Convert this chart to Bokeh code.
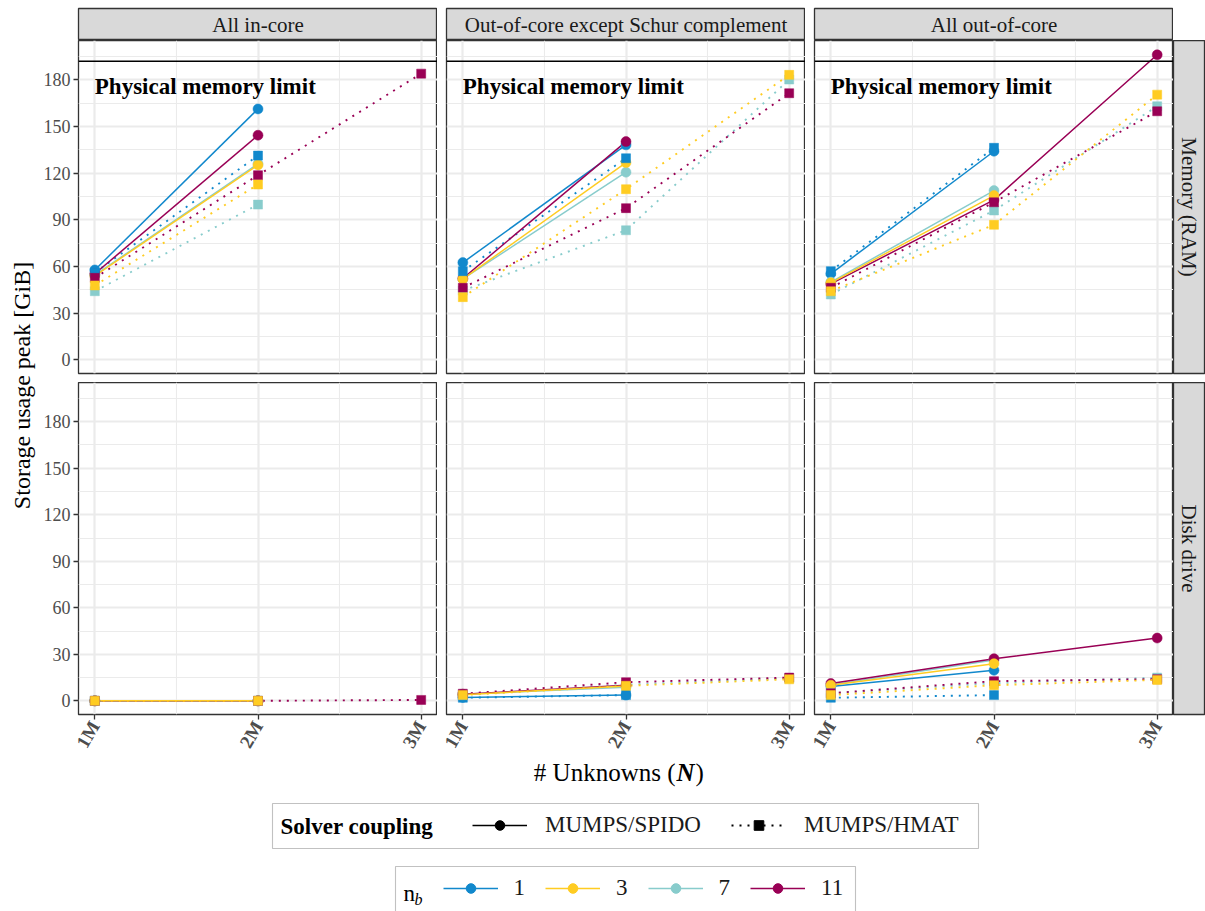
import math
from bokeh.plotting import figure
from bokeh.layouts import column, row
from bokeh.models import (ColumnDataSource, FixedTicker, Span, Label, Legend, LegendItem,
                          Range1d, BoxAnnotation)
from bokeh.embed import file_html
from bokeh.resources import INLINE

nan = float("nan")

# ---------------------------------------------------------------- data
N_VALUES = [1, 2, 3]                       # number of unknowns, millions
N_LABELS = ["1M", "2M", "3M"]
Y_TICKS = [0, 30, 60, 90, 120, 150, 180]
Y_MINOR = [15, 45, 75, 105, 135, 165, 195]
CONFIGS = ["All in-core", "Out-of-core except Schur complement", "All out-of-core"]
STORAGES = ["Memory (RAM)", "Disk drive"]
SOLVERS = ["MUMPS/SPIDO", "MUMPS/HMAT"]
NB_LABELS = ["1", "3", "7", "11"]
NB_COLORS = ["#1188CC", "#FFCC22", "#88CCCC", "#990055"]
MEMORY_LIMIT = 192

# rows follow NB_LABELS (1, 3, 7, 11); columns follow N_VALUES (1M, 2M, 3M); GiB
RAM_INCORE_SPIDO = [[57.8, 161.3, nan], [54.0, 125.3, nan], [54.5, 126.0, nan], [55.3, 144.4, nan]]
RAM_INCORE_HMAT = [[56.0, 131.3, nan], [47.8, 112.7, nan], [44.1, 99.8, nan], [52.7, 118.7, 184.0]]
RAM_SCHUR_SPIDO = [[62.5, 138.2, nan], [51.9, 126.8, nan], [52.0, 120.6, nan], [52.3, 140.3, nan]]
RAM_SCHUR_HMAT = [[57.0, 129.6, nan], [40.3, 109.7, 183.2], [44.5, 83.3, 180.2], [46.3, 97.5, 171.4]]
RAM_OOC_SPIDO = [[55.3, 134.1, nan], [49.5, 105.6, nan], [50.0, 108.8, nan], [48.8, 102.8, 196.1]]
RAM_OOC_HMAT = [[57.0, 136.3, nan], [44.1, 86.8, 170.5], [42.0, 96.0, 163.0], [46.3, 101.3, 159.8]]

DISK_INCORE_SPIDO = [[0.0, 0.0, nan], [0.0, 0.0, nan], [0.0, 0.0, nan], [0.0, 0.0, nan]]
DISK_INCORE_HMAT = [[0.0, 0.0, nan], [0.0, 0.0, nan], [0.0, 0.0, nan], [0.0, 0.0, 0.6]]
DISK_SCHUR_SPIDO = [[2.2, 3.7, nan], [4.0, 9.5, nan], [4.2, 8.8, nan], [4.3, 10.0, nan]]
DISK_SCHUR_HMAT = [[2.0, 3.7, nan], [3.7, 9.7, 13.9], [4.0, 10.5, 14.5], [4.6, 12.0, 15.0]]
DISK_OOC_SPIDO = [[9.2, 19.7, nan], [10.1, 24.0, nan], [10.3, 26.4, nan], [11.2, 27.2, 40.5]]
DISK_OOC_HMAT = [[2.0, 3.7, nan], [3.7, 10.1, 13.5], [4.9, 11.4, 15.0], [4.9, 12.7, 14.0]]

DATA = {
    (0, 0): (RAM_INCORE_SPIDO, RAM_INCORE_HMAT),
    (1, 0): (RAM_SCHUR_SPIDO, RAM_SCHUR_HMAT),
    (2, 0): (RAM_OOC_SPIDO, RAM_OOC_HMAT),
    (0, 1): (DISK_INCORE_SPIDO, DISK_INCORE_HMAT),
    (1, 1): (DISK_SCHUR_SPIDO, DISK_SCHUR_HMAT),
    (2, 1): (DISK_OOC_SPIDO, DISK_OOC_HMAT),
}

# ---------------------------------------------------------------- style
FONT = "Liberation Serif"
FRAME_W, FRAME_H = 359, 333
YTITLE_W = 38
LEFT_AXIS = 40
GAP = 9
BOTTOM_AXIS = 44
STRIP = 32
TOP_STRIP = 40          # includes 8px top margin
X_RANGE = (0.9, 3.1)
Y_RANGE = (-8.8, 205.3)
DRAW_ORDER = [0, 2, 3, 1]
LINE_DASH = ["solid", "2 6"]
LINE_WIDTH = [1.5, 1.9]
MARKERS = ["circle", "square"]
MARKER_SIZE = [10, 9]
GRID_COLOR = "#EBEBEB"
DARK = "#333333"


def style_axes(p, show_x, show_y):
    for ax in p.xaxis:
        ax.ticker = FixedTicker(ticks=N_VALUES, minor_ticks=[1.5, 2.5])
        ax.major_label_overrides = dict(zip(N_VALUES, N_LABELS))
        ax.major_label_orientation = math.pi / 3
        ax.major_label_text_font = FONT
        ax.major_label_text_font_size = "19px"
        ax.major_label_text_font_style = "bold"
        ax.major_label_text_color = "#4D4D4D"
        ax.major_label_standoff = 3
        ax.visible = show_x
    for ax in p.yaxis:
        ax.ticker = FixedTicker(ticks=Y_TICKS, minor_ticks=Y_MINOR)
        ax.major_label_text_font = FONT
        ax.major_label_text_font_size = "18px"
        ax.major_label_text_color = "#4D4D4D"
        ax.major_label_standoff = 3
        ax.visible = show_y
    for ax in list(p.xaxis) + list(p.yaxis):
        ax.axis_line_color = None
        ax.major_tick_line_color = DARK
        ax.major_tick_line_width = 1.3
        ax.major_tick_out = 5
        ax.major_tick_in = 0
        ax.minor_tick_line_color = None
    for g in list(p.xgrid) + list(p.ygrid):
        g.grid_line_color = GRID_COLOR
        g.grid_line_width = 2.2
        g.minor_grid_line_color = GRID_COLOR
        g.minor_grid_line_width = 1.1


def make_panel(ci, si):
    lb = LEFT_AXIS if ci == 0 else GAP
    bb = GAP if si == 0 else BOTTOM_AXIS
    p = figure(width=lb + FRAME_W, height=FRAME_H + bb,
               x_range=Range1d(*X_RANGE), y_range=Range1d(*Y_RANGE),
               toolbar_location=None, output_backend="svg",
               min_border_left=lb, min_border_right=0, min_border_top=0, min_border_bottom=bb,
               outline_line_color=DARK, outline_line_width=1.3,
               background_fill_color="white", border_fill_color="white")
    style_axes(p, show_x=(si == 1), show_y=(ci == 0))

    if si == 0:
        p.add_layout(Span(location=MEMORY_LIMIT, dimension="width",
                          line_color="black", line_width=1.5))
        p.add_layout(Label(x=N_VALUES[0], y=MEMORY_LIMIT - 16, text="Physical memory limit",
                           text_font=FONT, text_font_size="23px", text_font_style="bold",
                           text_color="black", text_align="left", text_baseline="middle"))

    series = DATA[(ci, si)]
    sources = {}
    for k in DRAW_ORDER:
        for s in range(2):
            src = ColumnDataSource(dict(n=N_VALUES, gib=series[s][k]))
            sources[(k, s)] = src
            p.line("n", "gib", source=src, line_color=NB_COLORS[k], line_width=LINE_WIDTH[s],
                   line_dash=LINE_DASH[s])
    for s in range(2):
        for k in DRAW_ORDER:
            p.scatter("n", "gib", source=sources[(k, s)], marker=MARKERS[s],
                      size=MARKER_SIZE[s], fill_color=NB_COLORS[k], line_color=NB_COLORS[k],
                      line_width=0.5)
    return p


def make_top_strip(ci):
    lb = (YTITLE_W + LEFT_AXIS) if ci == 0 else GAP
    s = figure(width=lb + FRAME_W, height=TOP_STRIP, x_range=Range1d(0, 1), y_range=Range1d(0, 1),
               toolbar_location=None, output_backend="svg",
               min_border_left=lb, min_border_right=0, min_border_top=8, min_border_bottom=0,
               x_axis_location=None, y_axis_location=None,
               background_fill_color="#D9D9D9", border_fill_color="white",
               outline_line_color=DARK, outline_line_width=1.3)
    for g in list(s.xgrid) + list(s.ygrid):
        g.visible = False
    s.add_layout(Label(x=0.5, y=0.5, text=CONFIGS[ci], text_font=FONT, text_font_size="21px",
                       text_color="#1A1A1A", text_align="center", text_baseline="middle"))
    return s


def make_right_strip(si):
    bb = GAP if si == 0 else BOTTOM_AXIS
    s = figure(width=STRIP, height=FRAME_H + bb, x_range=Range1d(0, 1), y_range=Range1d(0, 1),
               toolbar_location=None, output_backend="svg",
               min_border_left=0, min_border_right=1, min_border_top=0, min_border_bottom=bb,
               x_axis_location=None, y_axis_location=None,
               background_fill_color="#D9D9D9", border_fill_color="white",
               outline_line_color=DARK, outline_line_width=1.3)
    for g in list(s.xgrid) + list(s.ygrid):
        g.visible = False
    s.add_layout(Label(x=0.5, y=0.5, text=STORAGES[si], text_font=FONT, text_font_size="21px",
                       text_color="#1A1A1A", text_align="center", text_baseline="middle",
                       angle=-math.pi / 2))
    return s


def blank(width, height):
    f = figure(width=width, height=height, x_range=Range1d(0, width), y_range=Range1d(0, height),
               toolbar_location=None, output_backend="svg",
               min_border_left=0, min_border_right=0, min_border_top=0, min_border_bottom=0,
               x_axis_location=None, y_axis_location=None, outline_line_color=None,
               background_fill_color="white", border_fill_color="white")
    for g in list(f.xgrid) + list(f.ygrid):
        g.visible = False
    return f


panels = {(ci, si): make_panel(ci, si) for ci in range(3) for si in range(2)}
top_strips = [make_top_strip(ci) for ci in range(3)]
right_strips = [make_right_strip(si) for si in range(2)]

rows_height = (FRAME_H + GAP) + (FRAME_H + BOTTOM_AXIS)
total_w = YTITLE_W + (LEFT_AXIS + FRAME_W) + 2 * (GAP + FRAME_W) + STRIP

# y axis title (spans both panel rows)
ytitle = blank(YTITLE_W, rows_height)
ytitle.add_layout(Label(x=21, y=rows_height - (385 - TOP_STRIP), text="Storage usage peak [GiB]",
                        text_font=FONT, text_font_size="24px", text_color="black",
                        text_align="center", text_baseline="middle", angle=math.pi / 2))

# x axis title
XT_H = 29
xtitle = blank(total_w, XT_H)
xtitle.add_layout(Label(x=675, y=16, text="# Unknowns (", text_font=FONT, text_font_size="25px",
                        text_color="black", text_align="right", text_baseline="middle"))
xtitle.add_layout(Label(x=676, y=16, text="N", text_font=FONT, text_font_size="25px",
                        text_font_style="bold italic", text_color="black",
                        text_align="left", text_baseline="middle"))
xtitle.add_layout(Label(x=695, y=16, text=")", text_font=FONT, text_font_size="25px",
                        text_color="black", text_align="left", text_baseline="middle"))

# legends
LG_H = 911 - (TOP_STRIP + rows_height + XT_H)
lf = blank(total_w, LG_H)
lf.add_layout(BoxAnnotation(left=272, right=978, bottom=LG_H - 60, top=LG_H - 15, fill_alpha=0,
                            line_color=DARK, line_width=1.1))
lf.add_layout(BoxAnnotation(left=395, right=855, bottom=LG_H - 123, top=LG_H - 78, fill_alpha=0,
                            line_color=DARK, line_width=1.1))
lf.add_layout(Label(x=280, y=LG_H - 37.5, text="Solver coupling", text_font=FONT,
                    text_font_size="23px", text_font_style="bold", text_color="black",
                    text_align="left", text_baseline="middle"))
lf.add_layout(Label(x=403, y=LG_H - 105, text="n", text_font=FONT, text_font_size="23px",
                    text_color="black", text_align="left", text_baseline="alphabetic"))
lf.add_layout(Label(x=414, y=LG_H - 111, text="b", text_font=FONT, text_font_size="16px",
                    text_font_style="italic", text_color="black", text_align="left",
                    text_baseline="alphabetic"))

# legend key renderers: one point placed far outside the visible area
offscreen = ColumnDataSource(dict(x=[-1e4], y=[-1e4]))
solver_items = []
for s in range(2):
    rl = lf.line("x", "y", source=offscreen, line_color="black", line_width=LINE_WIDTH[s],
                 line_dash=LINE_DASH[s])
    rm = lf.scatter("x", "y", source=offscreen, marker=MARKERS[s], size=MARKER_SIZE[s],
                    fill_color="black", line_color="black")
    solver_items.append(LegendItem(label=SOLVERS[s], renderers=[rl, rm]))
nb_items = []
for k in range(4):
    rl = lf.line("x", "y", source=offscreen, line_color=NB_COLORS[k], line_width=1.5)
    rm = lf.scatter("x", "y", source=offscreen, marker="circle", size=10,
                    fill_color=NB_COLORS[k], line_color=NB_COLORS[k])
    nb_items.append(LegendItem(label=NB_LABELS[k], renderers=[rl, rm]))

common = dict(orientation="horizontal", padding=0, margin=0, glyph_width=55, glyph_height=24,
              label_height=24, label_width=1, border_line_color=None, background_fill_alpha=0,
              label_text_font=FONT, label_text_font_size="23px", label_text_color="#1A1A1A")
leg1 = Legend(items=solver_items, location=(472, LG_H - 37.5 - 12), spacing=30,
              label_standoff=18, **common)
leg2 = Legend(items=nb_items, location=(442.5, LG_H - 101 - 12), spacing=20,
              label_standoff=16, **common)
lf.add_layout(leg1)
lf.add_layout(leg2)

grid = column(
    row(panels[(0, 0)], panels[(1, 0)], panels[(2, 0)], right_strips[0]),
    row(panels[(0, 1)], panels[(1, 1)], panels[(2, 1)], right_strips[1]),
)
layout = column(row(*top_strips), row(ytitle, grid), xtitle, lf)

open("out.html", "w").write(file_html(layout, INLINE, title="Storage usage peak"))
